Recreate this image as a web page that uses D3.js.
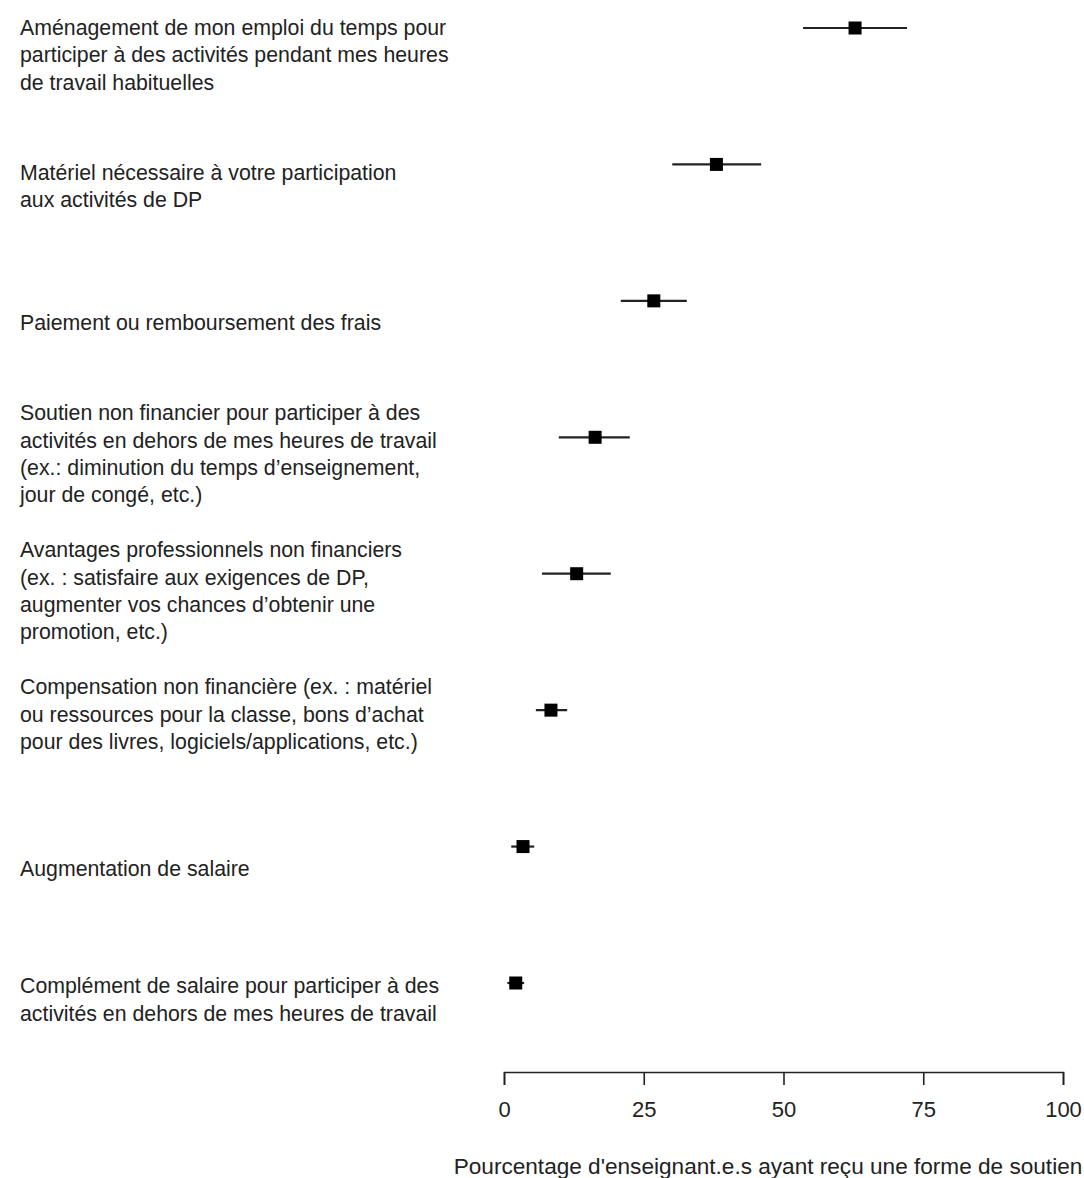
<!DOCTYPE html>
<meta charset="utf-8">
<style>
body { margin: 0; background: #fff; }
text { font-family: "Liberation Sans", Arial, Helvetica, sans-serif; fill: #222; }
.whisker { stroke: #222; stroke-width: 2.2px; }
.axis path, .axis line { stroke: #222; stroke-width: 1.6px; }
</style>
<svg width="1084" height="1178"></svg>
<script src="https://cdn.jsdelivr.net/npm/d3@7"></script>
<script>

// categories (one array of lines per label)
var categories = [
  ["Aménagement de mon emploi du temps pour", "participer à des activités pendant mes heures", "de travail habituelles"],
  ["Matériel nécessaire à votre participation", "aux activités de DP"],
  ["Paiement ou remboursement des frais"],
  ["Soutien non financier pour participer à des", "activités en dehors de mes heures de travail", "(ex.: diminution du temps d’enseignement,", "jour de congé, etc.)"],
  ["Avantages professionnels non financiers", "(ex. : satisfaire aux exigences de DP,", "augmenter vos chances d’obtenir une", "promotion, etc.)"],
  ["Compensation non financière (ex. : matériel", "ou ressources pour la classe, bons d’achat", "pour des livres, logiciels/applications, etc.)"],
  ["Augmentation de salaire"],
  ["Complément de salaire pour participer à des", "activités en dehors de mes heures de travail"]
];

var estimate = [62.8, 38.0, 26.8, 16.3, 13.0, 8.4, 3.4, 2.1];
var lower    = [53.5, 30.1, 20.9,  9.8,  6.8, 5.7, 1.3, 0.6];
var upper    = [72.1, 46.0, 32.7, 22.5, 19.1, 11.3, 5.4, 3.6];

var tickValues = [0, 25, 50, 75, 100];
var axisTitle = "Pourcentage d'enseignant.e.s ayant reçu une forme de soutien";

// layout tweak: shift of each label block from its row
var labelDy = [27, 21.5, 22, 16.5, 17, 4, 22, 16.5];

var svg = d3.select("svg");

var x = d3.scaleLinear().domain([0, 100]).range([504, 1063]);
var y = d3.scalePoint().domain(d3.range(categories.length)).range([28, 983]);

var fontSize = 21.3, lineH = 27.3;

// labels
var lab = svg.append("g").selectAll("text")
  .data(categories)
  .enter().append("text")
    .attr("x", 20)
    .attr("font-size", fontSize);

lab.each(function(lines, i) {
  var top = y(i) + labelDy[i] - (lines.length - 1) * lineH / 2;
  d3.select(this).selectAll("tspan")
    .data(lines)
    .enter().append("tspan")
      .attr("x", 20)
      .attr("y", function(d, j) { return top + j * lineH; })
      .attr("dy", "0.35em")
      .text(function(d) { return d; });
});

// whiskers
svg.append("g").selectAll("line")
  .data(estimate)
  .enter().append("line")
    .attr("class", "whisker")
    .attr("x1", function(d, i) { return x(lower[i]); })
    .attr("x2", function(d, i) { return x(upper[i]); })
    .attr("y1", function(d, i) { return y(i); })
    .attr("y2", function(d, i) { return y(i); });

// points
var s = 13;
svg.append("g").selectAll("rect")
  .data(estimate)
  .enter().append("rect")
    .attr("x", function(d) { return x(d) - s / 2; })
    .attr("y", function(d, i) { return y(i) - s / 2; })
    .attr("width", s)
    .attr("height", s)
    .attr("fill", "#000");

// axis
var axis = svg.append("g")
  .attr("class", "axis")
  .attr("transform", "translate(0,1072)")
  .call(d3.axisBottom(x).tickValues(tickValues).tickSize(13).tickSizeOuter(13).tickPadding(16));
axis.selectAll("text")
  .attr("font-size", 22)
  .style("font-family", "Liberation Sans, Arial, sans-serif")
  .attr("fill", "#222");

svg.append("text")
  .attr("x", 768)
  .attr("y", 1166)
  .attr("dy", "0.35em")
  .attr("text-anchor", "middle")
  .attr("font-size", 22.6)
  .text(axisTitle);

</script>
